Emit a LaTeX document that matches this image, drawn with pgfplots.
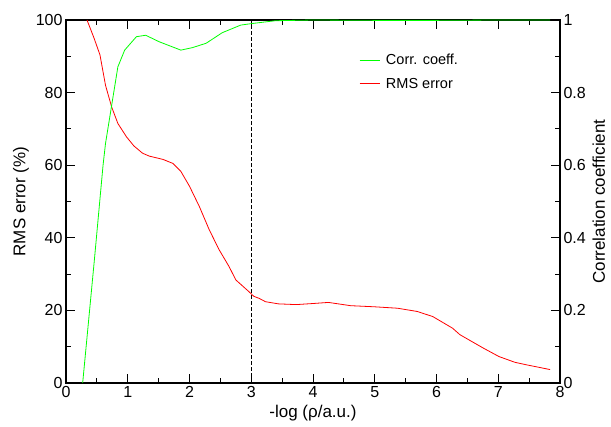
\documentclass[border=0pt]{standalone}
\usepackage{fontspec}
\setmainfont{Liberation Sans}
\usepackage{pgfplots}
\pgfplotsset{compat=1.18}

\definecolor{rmsred}{RGB}{255,0,0}
\definecolor{ccgreen}{RGB}{0,255,0}

\pgfplotsset{
  common/.style={
    scale only axis, width=494pt, height=363pt,
    xmin=0, xmax=8,
    tick align=inside,
    major tick length=9pt, minor tick length=5pt,
    every tick/.style={black, line width=1pt},
    axis line style={line width=1.5pt},
    tick label style={font=\fontsize{16}{18}\selectfont},
    label style={font=\fontsize{17}{20}\selectfont},
    /pgf/number format/assume math mode=true,
  }
}

\begin{document}
\begin{tikzpicture}
\begin{axis}[common, name=ax,
    ymin=0, ymax=100,
    xtick={0,1,2,3,4,5,6,7,8}, minor x tick num=1,
    ytick={0,20,40,60,80,100}, minor y tick num=1,
    xtick pos=both, ytick pos=left,
    xlabel={-log (ρ/a.u.)},
    ylabel={RMS error (\%)}]
\addplot[black, line width=0.8pt, dash pattern=on 4pt off 2pt] coordinates {(3,0) (3,100)};
\addplot[rmsred, line width=0.8pt] coordinates {
    (0.34,100) (0.45,95.2) (0.55,90.4) (0.64,82) (0.74,76) (0.84,71.5)
    (0.98,67.8) (1.10,65.3) (1.24,63.3) (1.35,62.5) (1.57,61.6) (1.73,60.5)
    (1.86,58.3) (2.00,54.2) (2.16,48.6) (2.32,42.2) (2.48,36.7) (2.64,32.1)
    (2.75,28.4) (2.96,25.2) (3.04,23.9) (3.13,23.3) (3.23,22.4) (3.44,21.8)
    (3.73,21.6) (4.00,21.9) (4.25,22.2) (4.61,21.3) (4.99,21.0) (5.37,20.6)
    (5.69,19.7) (5.94,18.3) (6.26,15.1) (6.38,13.3) (6.76,9.6) (7.01,7.3)
    (7.27,5.7) (7.46,5.0) (7.84,3.7)
};
\end{axis}
\begin{axis}[common,
    ymin=0, ymax=1,
    axis x line=none, axis y line*=right,
    ytick={0,0.2,0.4,0.6,0.8,1}, minor y tick num=1,
    ylabel={Correlation coefficient},
    legend style={draw=none, fill=none, at={(0.587,0.918)}, anchor=north west,
        font=\fontsize{14.5}{16}\selectfont, row sep=8pt},
    legend cell align=left,
    legend image code/.code={\draw[#1] (0pt,0pt) -- (20pt,0pt); \path (24pt,0pt);}]
\addplot[ccgreen, line width=0.8pt] coordinates {
    (0.27,0) (0.46,0.34) (0.60,0.60) (0.64,0.66) (0.84,0.871) (0.95,0.917)
    (1.14,0.954) (1.29,0.958) (1.51,0.94) (1.86,0.917) (2.05,0.924) (2.27,0.936)
    (2.53,0.965) (2.83,0.986) (3.00,0.99) (3.39,0.998) (4.00,1.0) (5.00,0.999)
    (6.00,0.999) (7.00,1.0) (7.84,1.0)
};
\addlegendentry{Corr. coeff.}
\addlegendimage{rmsred, line width=0.8pt}
\addlegendentry{RMS error}
\end{axis}
\path ([xshift=-66pt,yshift=-43pt]ax.south west) rectangle ([xshift=51pt,yshift=20pt]ax.north east);
\end{tikzpicture}
\end{document}
